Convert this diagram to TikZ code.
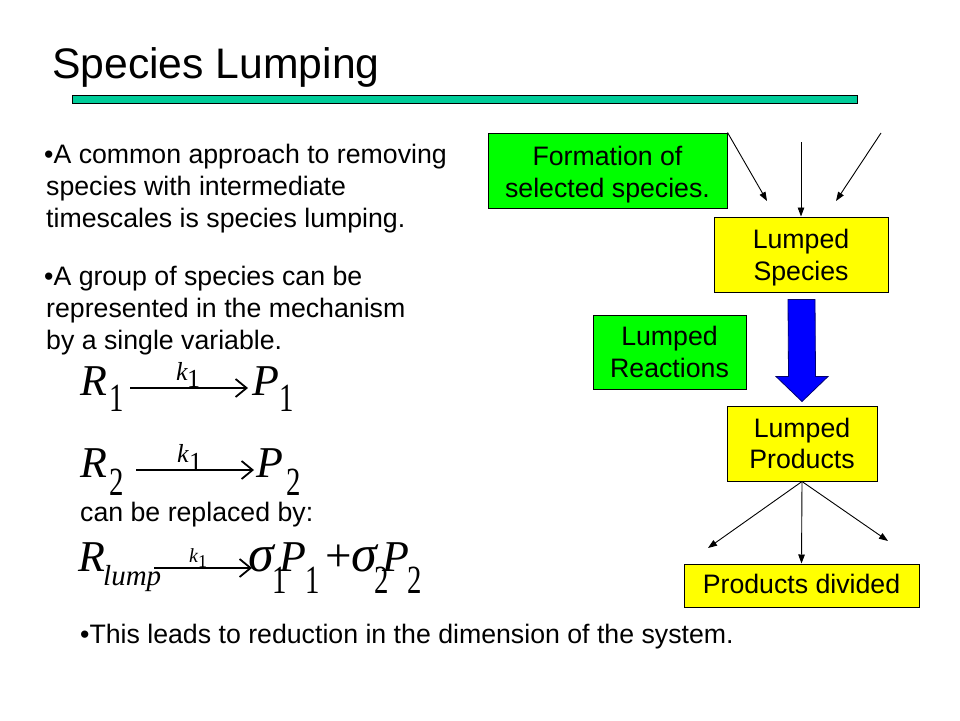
\documentclass[tikz,border=0pt]{standalone}
\usepackage{fontspec}
\setmainfont{Liberation Sans}
\newfontfamily\tnr{Liberation Serif}
\usetikzlibrary{arrows.meta,calc}
\definecolor{gbox}{RGB}{0,255,0}
\definecolor{ybox}{RGB}{255,255,0}
\definecolor{barcol}{RGB}{0,204,153}
\definecolor{bigblue}{RGB}{0,0,255}
\definecolor{navy}{RGB}{0,0,110}
\newcommand{\nsub}[1]{\scalebox{0.72}[1]{#1}}
\begin{document}
\begin{tikzpicture}[x=1pt,y=-1pt,
  titletxt/.style={anchor=base west,inner sep=0,font=\fontsize{42.7}{48}\selectfont},
  body/.style={anchor=base west,inner sep=0,font=\fontsize{26.7}{32}\selectfont},
  btxt/.style={anchor=base,inner sep=0,font=\fontsize{26.7}{32}\selectfont},
  boxg/.style={draw=black,line width=1pt,fill=gbox,inner sep=0},
  boxy/.style={draw=black,line width=1pt,fill=ybox,inner sep=0},
  thinarrow/.style={draw=black,line width=0.9pt,-{Triangle[length=9pt,width=6.5pt]}},
  rxn/.style={draw=black,line width=1.8pt,-{Straight Barb[length=11pt,width=18pt]}},
  eqi/.style={anchor=base west,inner sep=0,font=\tnr\itshape\fontsize{44}{44}\selectfont},
  eqg/.style={anchor=base west,inner sep=0,font=\tnr\itshape\fontsize{52}{52}\selectfont},
  eqd/.style={anchor=base west,inner sep=0,font=\tnr\fontsize{40}{40}\selectfont},
  eqp/.style={anchor=base west,inner sep=0,font=\tnr\fontsize{47}{47}\selectfont},
  eqsi/.style={anchor=base west,inner sep=0,font=\tnr\itshape\fontsize{26}{26}\selectfont},
  eqsd/.style={anchor=base west,inner sep=0,font=\tnr\fontsize{26}{26}\selectfont},
  eqti/.style={anchor=base west,inner sep=0,font=\tnr\itshape\fontsize{20}{20}\selectfont},
  eqtd/.style={anchor=base west,inner sep=0,font=\tnr\fontsize{18}{18}\selectfont},
  eqli/.style={anchor=base west,inner sep=0,font=\tnr\itshape\fontsize{29}{29}\selectfont}
]
\useasboundingbox (0,0) rectangle (960,720);
\fill[white] (0,0) rectangle (960,720);

% title and bar
\node[titletxt] (title) at (52,78) {Species Lumping};
\draw[line width=1pt,fill=barcol] (72,95) rectangle (857,103);

% left text
\node[body] (t1) at (44,163) {•A common approach to removing};
\node[body] (t2) at (46,195) {species with intermediate};
\node[body] (t3) at (46,227) {timescales is species lumping.};
\node[body] (t4) at (44,285) {•A group of species can be};
\node[body] (t5) at (46,317) {represented in the mechanism};
\node[body] (t6) at (46,349) {by a single variable.};
\node[body] (t7) at (80,521) {can be replaced by:};
\node[body] (t8) at (80,643) {•This leads to reduction in the dimension of the system.};

% equation 1
\node[eqi] (r1) at (80,395) {R};
\node[eqd] (r1s) at (109,411) {\nsub{1}};
\node[eqsi] (k1a) at (176,380) {k};
\node[eqsd] (k1as) at (187,387) {1};
\coordinate (a1s) at (130,388);
\coordinate (a1e) at (248,388);
\draw[rxn] (a1s) -- (a1e);
\node[eqi] (p1) at (252,395) {P};
\node[eqd] (p1s) at (279,411) {\nsub{1}};

% equation 2
\node[eqi] (r2) at (80,477) {R};
\node[eqd] (r2s) at (109,495) {\nsub{2}};
\node[eqsi] (k1b) at (177,462) {k};
\node[eqsd] (k1bs) at (189,470) {1};
\coordinate (a2s) at (136,470);
\coordinate (a2e) at (254,470);
\draw[rxn] (a2s) -- (a2e);
\node[eqi] (p2) at (256,477) {P};
\node[eqd] (p2s) at (286,495) {\nsub{2}};

% equation 3
\node[eqi] (r3) at (78,571) {R};
\node[eqli] (r3s) at (103,585) {lump};
\node[eqti] (k1c) at (189,562) {k};
\node[eqtd] (k1cs) at (198,567) {1};
\coordinate (a3s) at (154,568);
\coordinate (a3e) at (252,568);
\draw[rxn] (a3s) -- (a3e);
\node[eqg] (s1) at (248,571) {σ};
\node[eqd] (s1s) at (272,593) {\nsub{1}};
\node[eqi] (p3) at (279,571) {P};
\node[eqd] (p3s) at (305,593) {\nsub{1}};
\node[eqp] (plus) at (325,571) {+};
\node[eqg] (s2) at (351,571) {σ};
\node[eqd] (s2s) at (374,593) {\nsub{2}};
\node[eqi] (p4) at (382,571) {P};
\node[eqd] (p4s) at (407,593) {\nsub{2}};

% boxes
\node[boxg,minimum width=239pt,minimum height=75pt] (fs) at (607.5,170.5) {};
\node[btxt] (fst1) at (607.5,165) {Formation of};
\node[btxt] (fst2) at (607.5,197) {selected species.};

\node[boxy,minimum width=174pt,minimum height=75pt] (ls) at (801,254.5) {};
\node[btxt] (lst1) at (801,248) {Lumped};
\node[btxt] (lst2) at (801,280) {Species};

\node[boxg,minimum width=153pt,minimum height=74pt] (lr) at (669.5,352) {};
\node[btxt] (lrt1) at (669.5,345) {Lumped};
\node[btxt] (lrt2) at (669.5,377) {Reactions};

\node[boxy,minimum width=150pt,minimum height=75pt] (lp) at (802,443.5) {};
\node[btxt] (lpt1) at (802,437) {Lumped};
\node[btxt] (lpt2) at (802,468) {Products};

\node[boxy,minimum width=235pt,minimum height=43pt] (pd) at (801.5,585.5) {};
\node[btxt] (pdt) at (801.5,593) {Products divided};

% arrows into lumped species
\coordinate (in1e) at (767,201);
\coordinate (in2s) at (801,142);
\coordinate (in3s) at (881,133);
\coordinate (in3e) at (836,201);
\draw[thinarrow] (fs.north east) -- (in1e);
\draw[thinarrow] (in2s) -- (ls.north);
\draw[thinarrow] (in3s) -- (in3e);

% big blue arrow
\coordinate (bt) at ($(ls.south)+(0.5,7)$);
\coordinate (bb) at ($(lp.north)+(0,-4)$);
\draw[fill=bigblue,draw=navy,line width=0.8pt]
  ($(bt)+(-13.5,0)$) -- ($(bt)+(13.5,0)$) -- ($(bb)+(13.5,-25)$) -- ($(bb)+(26,-25)$)
  -- (bb) -- ($(bb)+(-26,-25)$) -- ($(bb)+(-13.5,-25)$) -- cycle;

% arrows out of lumped products
\coordinate (out1e) at (708,548);
\coordinate (out3e) at (888,541);
\draw[thinarrow] (lp.south) -- (out1e);
\draw[thinarrow] (lp.south) -- (pd.north);
\draw[thinarrow] (lp.south) -- (out3e);
\end{tikzpicture}
\end{document}
